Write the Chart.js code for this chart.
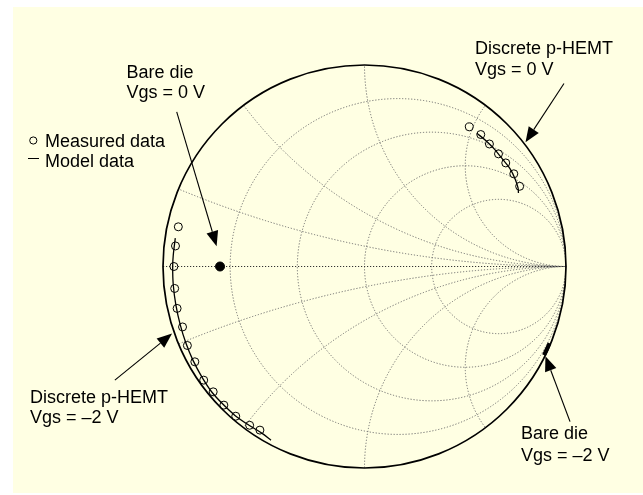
<!DOCTYPE html>
<html>
<head>
<meta charset="utf-8">
<script src="https://cdn.jsdelivr.net/npm/chart.js@4.4.1/dist/chart.umd.min.js"></script>
<style>
  html, body { margin: 0; padding: 0; background: #ffffff; }
  #wrap { position: relative; width: 643px; height: 495px; }
  canvas { display: block; }
</style>
</head>
<body>
<div id="wrap"><canvas id="smith" width="643" height="495"></canvas></div>
<script>
// Reflection coefficients (real, imaginary) read on the Smith chart
const discreteNeg2MeasuredRe = [-0.924, -0.938, -0.946, -0.942, -0.930, -0.903, -0.879, -0.842, -0.798, -0.751, -0.698, -0.639, -0.570, -0.519];
const discreteNeg2MeasuredIm = [0.197, 0.102, 0.000, -0.109, -0.208, -0.300, -0.392, -0.473, -0.564, -0.622, -0.688, -0.743, -0.788, -0.812];
const discreteNeg2ModelRe = [-0.939, -0.949, -0.952, -0.949, -0.936, -0.914, -0.886, -0.851, -0.806, -0.757, -0.702, -0.643, -0.573, -0.508, -0.464];
const discreteNeg2ModelIm = [0.141, 0.057, -0.001, -0.092, -0.192, -0.291, -0.381, -0.466, -0.550, -0.624, -0.684, -0.739, -0.788, -0.828, -0.862];

const discrete0MeasuredRe = [0.520, 0.577, 0.620, 0.665, 0.701, 0.741, 0.770];
const discrete0MeasuredIm = [0.693, 0.655, 0.608, 0.559, 0.514, 0.460, 0.398];
const discrete0ModelRe = [0.558, 0.603, 0.647, 0.687, 0.722, 0.747, 0.762, 0.764];
const discrete0ModelIm = [0.661, 0.624, 0.580, 0.530, 0.486, 0.436, 0.390, 0.365];

const bareDie0Re = [-0.717];
const bareDie0Im = [0.000];
const bareDieNeg2Re = [0.918, 0.905, 0.891];
const bareDieNeg2Im = [-0.381, -0.410, -0.440];

// Smith chart grid: constant resistance circles and constant reactance arcs
const resistanceValues = [0.2, 0.5, 1, 2];
const reactanceValues = [0.2, 0.5, 1, 2, -0.2, -0.5, -1, -2];

const pairs = (re, im) => re.map((v, i) => ({ x: v, y: im[i] }));

const FONT = '18px "Liberation Sans", Arial, sans-serif';

// Callout text blocks (canvas pixels) and arrows (reflection-plane coordinates)
const labels = [
  { lines: ['Discrete p-HEMT', 'Vgs = 0 V'], x: 475, y: 54, dy: 20.5 },
  { lines: ['Bare die', 'Vgs = 0 V'], x: 126.5, y: 78.3, dy: 20 },
  { lines: ['Discrete p-HEMT', 'Vgs = \u20132 V'], x: 30, y: 402.7, dy: 20 },
  { lines: ['Bare die', 'Vgs = \u20132 V'], x: 521, y: 439, dy: 22 }
];
const arrows = [
  { from: [0.990, 0.908], to: [0.799, 0.617] },
  { from: [-0.932, 0.767], to: [-0.734, 0.101] },
  { from: [-1.239, -0.564], to: [-0.955, -0.333] },
  { from: [1.020, -0.770], to: [0.898, -0.445] }
];

const panelPlugin = {
  id: 'panel',
  beforeDraw(chart) {
    const ctx = chart.ctx;
    ctx.save();
    ctx.fillStyle = '#ffffff';
    ctx.fillRect(0, 0, chart.width, chart.height);
    ctx.fillStyle = '#ffffe3';
    ctx.fillRect(13, 7, chart.width - 13, 486);
    ctx.restore();
  }
};

const smithGridPlugin = {
  id: 'smithGrid',
  beforeDatasetsDraw(chart) {
    const ctx = chart.ctx;
    const xs = chart.scales.x, ys = chart.scales.y;
    const px = v => xs.getPixelForValue(v);
    const py = v => ys.getPixelForValue(v);
    const sx = Math.abs(px(1) - px(0));
    const sy = Math.abs(py(1) - py(0));
    const cx = px(0), cy = py(0);

    ctx.save();
    // clip everything to the unit circle
    ctx.beginPath();
    ctx.ellipse(cx, cy, sx, sy, 0, 0, Math.PI * 2);
    ctx.clip();

    ctx.strokeStyle = '#6e6e6e';
    ctx.lineWidth = 1;
    ctx.setLineDash([1.2, 1.8]);

    resistanceValues.forEach(r => {
      const c = r / (r + 1), rad = 1 / (r + 1);
      ctx.beginPath();
      ctx.ellipse(px(c), cy, rad * sx, rad * sy, 0, 0, Math.PI * 2);
      ctx.stroke();
    });
    reactanceValues.forEach(x => {
      const rad = 1 / Math.abs(x);
      ctx.beginPath();
      ctx.ellipse(px(1), py(1 / x), rad * sx, rad * sy, 0, 0, Math.PI * 2);
      ctx.stroke();
    });
    ctx.strokeStyle = '#333333';
    ctx.beginPath();
    ctx.moveTo(px(-1), cy);
    ctx.lineTo(px(1), cy);
    ctx.stroke();
    ctx.restore();

    // outer boundary |Γ| = 1
    ctx.save();
    ctx.strokeStyle = '#000000';
    ctx.lineWidth = 1.7;
    ctx.beginPath();
    ctx.ellipse(cx, cy, sx, sy, 0, 0, Math.PI * 2);
    ctx.stroke();
    ctx.restore();
  }
};

const calloutPlugin = {
  id: 'callouts',
  afterDatasetsDraw(chart) {
    const ctx = chart.ctx;
    const xs = chart.scales.x, ys = chart.scales.y;
    ctx.save();
    ctx.fillStyle = '#000000';
    ctx.strokeStyle = '#000000';
    ctx.font = FONT;
    ctx.textBaseline = 'alphabetic';
    ctx.textAlign = 'left';
    labels.forEach(l => {
      l.lines.forEach((t, i) => ctx.fillText(t, l.x, l.y + i * l.dy));
    });

    arrows.forEach(a => {
      const x0 = xs.getPixelForValue(a.from[0]), y0 = ys.getPixelForValue(a.from[1]);
      const x1 = xs.getPixelForValue(a.to[0]), y1 = ys.getPixelForValue(a.to[1]);
      const ang = Math.atan2(y1 - y0, x1 - x0);
      const len = 15, half = 6;
      const bx = x1 - len * Math.cos(ang), by = y1 - len * Math.sin(ang);
      ctx.lineWidth = 1.1;
      ctx.beginPath();
      ctx.moveTo(x0, y0);
      ctx.lineTo(bx, by);
      ctx.stroke();
      ctx.beginPath();
      ctx.moveTo(x1, y1);
      ctx.lineTo(bx + half * Math.sin(ang), by - half * Math.cos(ang));
      ctx.lineTo(bx - half * Math.sin(ang), by + half * Math.cos(ang));
      ctx.closePath();
      ctx.fill();
    });

    // legend
    ctx.lineWidth = 1;
    ctx.beginPath();
    ctx.arc(33.3, 140.5, 3.6, 0, Math.PI * 2);
    ctx.stroke();
    ctx.fillText('Measured data', 45, 147.3);
    ctx.beginPath();
    ctx.moveTo(28, 158.5);
    ctx.lineTo(39, 158.5);
    ctx.stroke();
    ctx.fillText('Model data', 45, 167.3);
    ctx.restore();
  }
};

const modelStyle = {
  showLine: true, borderColor: '#000000', borderWidth: 1.3,
  pointRadius: 0, pointHoverRadius: 0, fill: false, tension: 0.3
};
const measuredStyle = {
  showLine: false, pointStyle: 'circle', pointRadius: 4,
  pointBorderWidth: 1, pointBorderColor: '#000000', pointBackgroundColor: 'rgba(0,0,0,0)'
};

new Chart(document.getElementById('smith'), {
  type: 'scatter',
  data: {
    datasets: [
      { label: 'Discrete p-HEMT Vgs = 0 V model', data: pairs(discrete0ModelRe, discrete0ModelIm), ...modelStyle },
      { label: 'Discrete p-HEMT Vgs = \u20132 V model', data: pairs(discreteNeg2ModelRe, discreteNeg2ModelIm), ...modelStyle },
      { label: 'Discrete p-HEMT Vgs = 0 V measured', data: pairs(discrete0MeasuredRe, discrete0MeasuredIm), ...measuredStyle },
      { label: 'Discrete p-HEMT Vgs = \u20132 V measured', data: pairs(discreteNeg2MeasuredRe, discreteNeg2MeasuredIm), ...measuredStyle },
      { label: 'Bare die Vgs = 0 V', data: pairs(bareDie0Re, bareDie0Im), showLine: false,
        pointRadius: 4.5, pointBackgroundColor: '#000000', pointBorderColor: '#000000', pointBorderWidth: 1 },
      { label: 'Bare die Vgs = \u20132 V', data: pairs(bareDieNeg2Re, bareDieNeg2Im), showLine: true,
        borderColor: '#000000', borderWidth: 4, pointRadius: 0, tension: 0.3, borderCapStyle: 'butt' }
    ]
  },
  options: {
    responsive: false,
    devicePixelRatio: 1,
    animation: false,
    layout: { padding: { left: 163, right: 77, top: 65, bottom: 27 } },
    scales: {
      x: { type: 'linear', min: -1, max: 1, display: false },
      y: { type: 'linear', min: -1, max: 1, display: false }
    },
    plugins: {
      legend: { display: false },
      tooltip: { enabled: false }
    }
  },
  plugins: [panelPlugin, smithGridPlugin, calloutPlugin]
});
</script>
</body>
</html>
